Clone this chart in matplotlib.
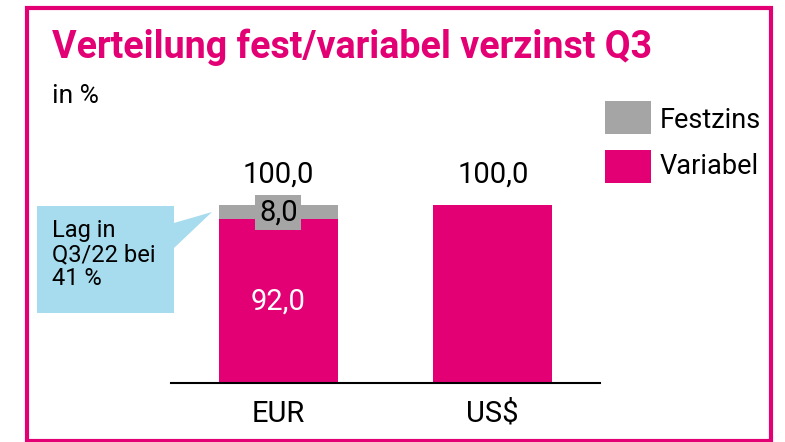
import matplotlib.pyplot as plt
from matplotlib.patches import Rectangle, Polygon
from matplotlib.transforms import Affine2D

categories = ["EUR", "US$"]
variabel = [92.0, 100.0]
festzins = [8.0, 0.0]
totals = [100.0, 100.0]

MAGENTA = "#E20074"
GREY = "#A5A5A5"
BLUE = "#A6DCED"

W, H = 785, 442
fig = plt.figure(figsize=(W / 100, H / 100), dpi=100)
# pixel coordinates, origin at the top left
px = Affine2D().scale(1 / W, -1 / H).translate(0, 1) + fig.transFigure

BODY_FONT = ["Roboto", "DejaVu Sans"]

def fmt(v):
    return f"{v:.1f}".replace(".", ",")

# frame
fig.patches.append(Rectangle((26.5, 8), 744, 433, transform=px, fill=False,
                             edgecolor=MAGENTA, lw=3))

title = fig.text(52, 58, "Verteilung fest/variabel verzinst Q3", transform=px,
                 color=MAGENTA, fontsize=23, fontweight="bold", family=BODY_FONT,
                 va="baseline", ha="left")
# fit the title to the reference width
r = fig.canvas.get_renderer()
tw = title.get_window_extent(r).width
title.set_fontsize(23 * 603 / tw)

fig.text(52, 103, "in %", transform=px, fontsize=19, family=BODY_FONT,
         va="baseline", ha="left")

ax = fig.add_axes([171 / W, 1 - 383 / H, 429 / W, 178 / H])
x = list(range(len(categories)))
ax.bar(x, variabel, width=0.555, color=MAGENTA)
ax.bar(x, festzins, width=0.555, bottom=variabel, color=GREY)
ax.set_xlim(-0.5, 1.5)
ax.set_ylim(0, 100)
for s in ["top", "right", "left"]:
    ax.spines[s].set_visible(False)
ax.spines["bottom"].set_linewidth(1.5)
ax.set_yticks([])
ax.set_xticks(x)
ax.set_xticklabels(categories, fontsize=21, family=BODY_FONT)
ax.tick_params(axis="x", length=0, pad=12)

for i in x:
    ax.annotate(fmt(totals[i]), (i, totals[i]), xytext=(0, 12),
                textcoords="offset points", ha="center", va="bottom",
                fontsize=21, family=BODY_FONT, annotation_clip=False)
    if festzins[i] > 0:
        ax.text(i, variabel[i] / 2, fmt(variabel[i]), ha="center", va="center",
                color="white", fontsize=21, family=BODY_FONT)
        ax.text(i, variabel[i] + festzins[i] / 2, fmt(festzins[i]),
                ha="center", va="center", fontsize=21, family=BODY_FONT,
                bbox=dict(boxstyle="square,pad=0.12", fc=GREY, ec="none"))

# callout
fig.patches.append(Polygon([(37, 206), (174, 206), (174, 223), (212, 212),
                            (174, 248), (174, 313), (37, 313)],
                           closed=True, transform=px, fc=BLUE, ec="none"))
fig.text(52, 219, "Lag in\nQ3/22 bei\n41 %", transform=px, fontsize=17,
         family=BODY_FONT, va="top", ha="left", linespacing=1.05)

# legend
fig.patches.append(Rectangle((605, 101), 46, 33, transform=px, fc=GREY, ec="none"))
fig.patches.append(Rectangle((605, 150), 46, 33, transform=px, fc=MAGENTA, ec="none"))
fig.text(660, 120, "Festzins", transform=px, fontsize=19.5, family=BODY_FONT,
         va="center", ha="left")
fig.text(660, 167, "Variabel", transform=px, fontsize=19.5, family=BODY_FONT,
         va="center", ha="left")

fig.savefig("out.png", dpi=100)
